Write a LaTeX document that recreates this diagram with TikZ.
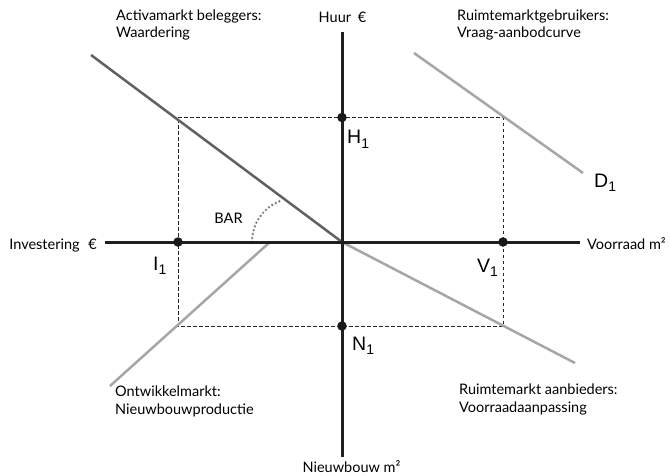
\documentclass[tikz,border=0pt]{standalone}
\usepackage{fontspec}
\setmainfont{Lato}
\newfontfamily\arialf{Liberation Sans}
\begin{document}
\begin{tikzpicture}[x=1pt,y=-1pt,
  axis/.style={line width=3pt, color=black!88},
  darkline/.style={line width=2.5pt, color=black!62},
  lightline/.style={line width=2.5pt, color=black!35},
  guide/.style={line width=0.7pt, dash pattern=on 3.5pt off 2.5pt, color=black!85},
  arcdots/.style={line width=2.6pt, color=black!50, line cap=round, dash pattern=on 0pt off 4pt},
  dot/.style={circle, fill=black!90, inner sep=0pt, minimum size=9.5pt},
  lbl/.style={font=\fontsize{14.5}{17.5}\selectfont, inner sep=0pt, align=left},
  ptlbl/.style={font=\arialf\fontsize{19.5}{20}\selectfont, inner sep=0pt, anchor=base west},
]
\fill[white] (0,0) rectangle (670,475);
\useasboundingbox (0,0) rectangle (670,475);
\newcommand{\subone}{\raisebox{-4.5pt}{\fontsize{14}{14}\selectfont 1}}

% coordinates
\coordinate (O)  at (342,242);
\coordinate (xl) at (105,242);
\coordinate (xr) at (580,242);
\coordinate (yt) at (342,32);
\coordinate (yb) at (342,457);
\coordinate (cA) at (178,117.5);
\coordinate (cB) at (503,117.5);
\coordinate (cC) at (178,326);
\coordinate (cD) at (503,326);
\coordinate (aS) at (91,55);
\coordinate (dS) at (414,53);
\coordinate (dE) at (583,173);
\coordinate (oS) at (110,386);
\coordinate (oE) at (270,242);
\coordinate (rE) at (575,363);
\coordinate (arcS) at (252,242);

% dashed guides
\draw[guide] (cA) -- (cB) -- (cD) -- (cC) -- cycle;

% market curves
\draw[lightline] (dS) -- (dE);
\draw[lightline] (oS) -- (oE);
\draw[lightline] (O) -- (rE);
\draw[darkline] (aS) -- (O);

% BAR arc
\draw[arcdots] (arcS) arc[start angle=180, end angle=249, radius=44];

% axes
\draw[axis] (xl) -- (xr);
\draw[axis] (yt) -- (yb);

% dots
\node[dot] (H1) at (342,117.5) {};
\node[dot] (I1) at (178,242) {};
\node[dot] (V1) at (503,242) {};
\node[dot] (N1) at (342,326) {};

% axis labels
\node[lbl, anchor=base] (huur) at (342.5,22.5) {Huur\hspace{3pt} €};
\node[lbl, anchor=base] (nieuw) at (351.5,472) {Nieuwbouw m²};
\node[lbl, anchor=base east] (inv) at (97,249.5) {Investering\hspace{5pt} €};
\node[lbl, anchor=base west] (voor) at (587,249.5) {Voorraad m²};

% quadrant labels
\node[lbl, anchor=base west] (q1) at (116,37.5) {Activamarkt beleggers:\\Waardering};
\node[lbl, anchor=base west] (q2) at (457,37.5) {Ruimtemarktgebruikers:\\Vraag-aanbodcurve};
\node[lbl, anchor=base west] (q3) at (115,414) {Ontwikkelmarkt:\\Nieuwbouwproductie};
\node[lbl, anchor=base west] (q4) at (459,412) {Ruimtemarkt aanbieders:\\Voorraadaanpassing};
\node[lbl, anchor=base] (bar) at (228.5,223) {BAR};

% point labels
\node[ptlbl] (lH) at (347,143.5) {H\subone};
\node[ptlbl] (lD) at (594,187) {D\subone};
\node[ptlbl] (lI) at (153,270) {I\subone};
\node[ptlbl] (lV) at (477,272) {V\subone};
\node[ptlbl] (lN) at (352,350) {N\subone};
\end{tikzpicture}
\end{document}
